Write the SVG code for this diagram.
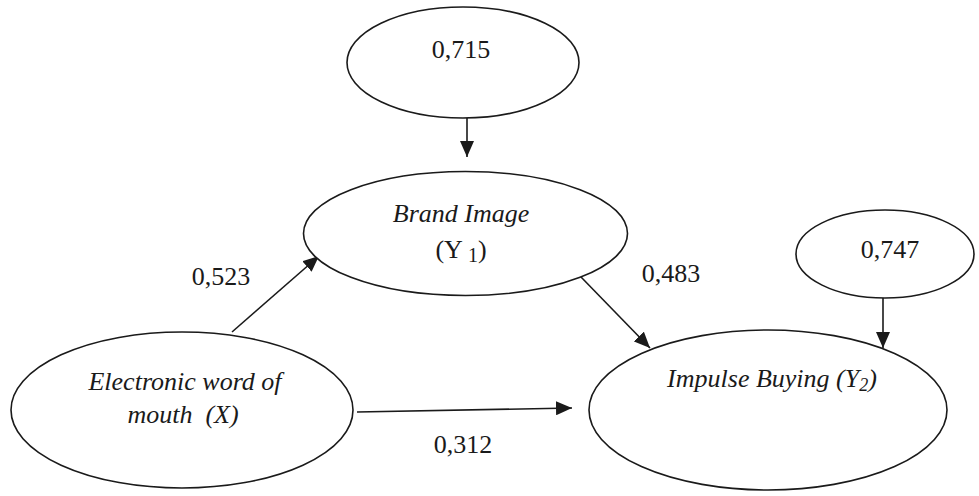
<svg xmlns="http://www.w3.org/2000/svg" width="979" height="496" viewBox="0 0 979 496">
<style>
.node ellipse{fill:#fff;stroke:#1a1a1a;stroke-width:1.6}
.t{font-family:"Liberation Serif","Times New Roman",serif;fill:#1a1a1a;text-anchor:middle;white-space:pre}
.num{font-size:26px}
.lab{font-size:26px;font-style:italic}
.conn line{stroke:#1a1a1a;stroke-width:1.6}
</style>
<defs>
<marker id="ah" markerUnits="userSpaceOnUse" markerWidth="16" markerHeight="14" viewBox="0 0 16 14" refX="16" refY="7" orient="auto">
<path d="M0,0 L16,7 L0,14 z" fill="#1a1a1a"/>
</marker>
</defs>
<rect width="979" height="496" fill="#fff"/>
<g class="conn">
<line x1="467" y1="118" x2="467" y2="157" marker-end="url(#ah)"/>
<line x1="232" y1="332" x2="319" y2="256" marker-end="url(#ah)"/>
<line x1="581" y1="277" x2="650" y2="348" marker-end="url(#ah)"/>
<line x1="883" y1="298" x2="883" y2="348" marker-end="url(#ah)"/>
<line x1="357" y1="412" x2="572" y2="408" marker-end="url(#ah)"/>
</g>
<g id="e715" class="node">
<ellipse cx="463" cy="62.5" rx="116" ry="55.5"/>
<text class="t num" x="461" y="58">0,715</text>
</g>
<g id="brand" class="node">
<ellipse cx="465.5" cy="233.5" rx="162" ry="62"/>
<text class="t lab" x="461" y="222">Brand Image</text>
<text class="t num" x="461" y="258">(Y<tspan font-size="20" dy="4"> 1</tspan><tspan dy="-4">)</tspan></text>
</g>
<g id="e747" class="node">
<ellipse cx="885" cy="254" rx="89" ry="44"/>
<text class="t num" x="890" y="258">0,747</text>
</g>
<g id="ewom" class="node">
<ellipse cx="182" cy="410" rx="171" ry="78"/>
<text class="t lab" x="185" y="390">Electronic word of</text>
<text class="t lab" x="183" y="423" xml:space="preserve">mouth  (X)</text>
</g>
<g id="impulse" class="node">
<ellipse cx="768" cy="410" rx="179" ry="80"/>
<text class="t lab" x="772" y="387">Impulse Buying (Y<tspan font-size="18" dy="4">2</tspan><tspan dy="-4">)</tspan></text>
</g>
<g id="labels">
<text class="t num" x="221" y="285">0,523</text>
<text class="t num" x="671" y="282">0,483</text>
<text class="t num" x="463" y="453">0,312</text>
</g>
</svg>
